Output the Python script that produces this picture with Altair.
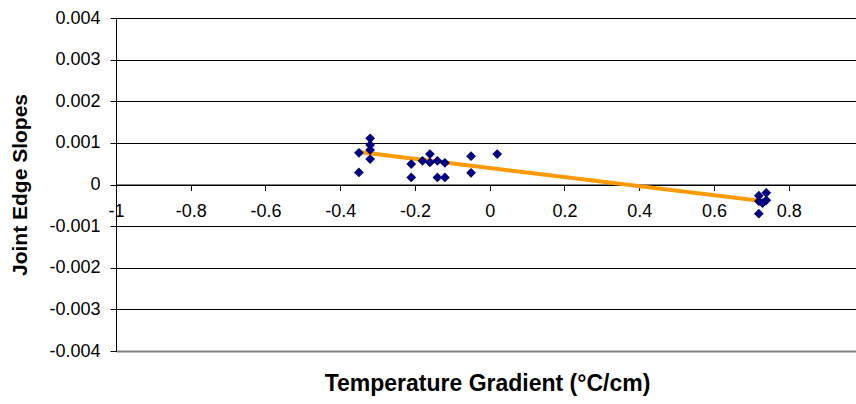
import altair as alt
import pandas as pd

gradient = [-0.35, -0.32, -0.32, -0.32, -0.32, -0.35, -0.21, -0.21, -0.18, -0.16,
            -0.16, -0.14, -0.14, -0.12, -0.12, -0.05, -0.05, 0.02,
            0.72, 0.74, 0.72, 0.74, 0.73, 0.72]
slope = [0.00076, 0.00111, 0.00095, 0.00083, 0.00061, 0.00029, 0.00049, 0.00017, 0.00057, 0.00073,
         0.00053, 0.00057, 0.00017, 0.00052, 0.00017, 0.00068, 0.00028, 0.00073,
         -0.00027, -0.00020, -0.00040, -0.00038, -0.00045, -0.00070]

trend_x = [-0.35, 0.74]
trend_y = [0.00078, -0.00041]

x_ticks = [-1, -0.8, -0.6, -0.4, -0.2, 0, 0.2, 0.4, 0.6, 0.8]
y_ticks = [-0.004, -0.003, -0.002, -0.001, 0, 0.001, 0.002, 0.003, 0.004]

pts = pd.DataFrame({"x": gradient, "y": slope})
trend = pd.DataFrame({"x": trend_x, "y": trend_y})

FONT = "Liberation Sans"
lab = "(datum.value < 0 ? '-' : '') + format(abs(datum.value), '~g')"

xscale = alt.Scale(domain=[-1, 0.98], nice=False, zero=False)
yscale = alt.Scale(domain=[-0.004, 0.004], nice=False)

xaxis = alt.Axis(
    values=x_ticks, labelExpr=lab, labelFlush=False, labelOverlap=False,
    offset=-166.5, grid=False, domainColor="black", tickColor="black",
    tickSize=6, labelPadding=12, labelFont=FONT, labelFontSize=18, labelColor="black",
    title="Temperature Gradient (°C/cm)", titleFont=FONT, titleFontSize=23,
    titleFontWeight="bold", titleColor="black", titleX=371, titleY=206,
    titleAlign="center", titleBaseline="alphabetic", titleAnchor=None,
)
yaxis = alt.Axis(
    values=y_ticks, labelExpr=lab, labelFlush=False, labelOverlap=False,
    grid=True,
    gridColor=alt.condition("datum.value < -0.0035", alt.value("#808080"), alt.value("black")),
    gridWidth=alt.condition("datum.value < -0.0035", alt.value(2), alt.value(1)),
    domainColor="black", tickColor="black",
    tickSize=6, labelPadding=10, labelFont=FONT, labelFontSize=18, labelColor="black",
    title="Joint Edge Slopes", titleFont=FONT, titleFontSize=21, titleFontWeight="bold",
    titleColor="black", titleX=-90, titleY=166.5, titleAngle=-90,
    titleAlign="center", titleBaseline="alphabetic",
)

line = alt.Chart(trend).mark_line(color="#FF9900", strokeWidth=4).encode(
    x=alt.X("x:Q", scale=xscale, axis=xaxis),
    y=alt.Y("y:Q", scale=yscale, axis=yaxis),
)
points = alt.Chart(pts).mark_point(shape="diamond", filled=True, color="#000080",
                                   size=95, opacity=1).encode(
    x=alt.X("x:Q", scale=xscale),
    y=alt.Y("y:Q", scale=yscale),
)

chart = alt.layer(line, points).properties(
    width=740, height=333,
    autosize=alt.AutoSizeParams(type="none"),
    padding={"left": 116, "top": 18, "right": 0, "bottom": 53},
    background="white",
).configure_view(stroke=None)

chart.save("out.html", embed_options={"renderer": "svg", "actions": False})
